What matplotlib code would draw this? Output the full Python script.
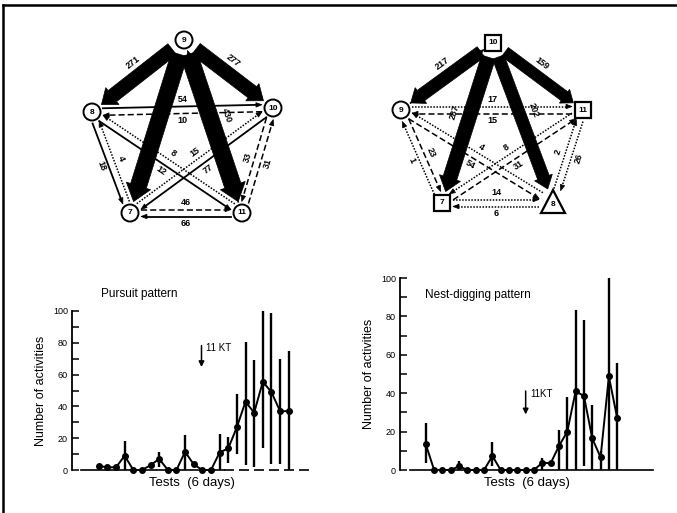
import numpy as np
import matplotlib
matplotlib.use("Agg")
import matplotlib.pyplot as plt
from matplotlib.patches import Circle, Rectangle, Polygon

plt.rcParams['font.family'] = ['Liberation Sans', 'DejaVu Sans']

# ---- transition diagrams: edges (from, to, count) ----
left_src = [9, 9, 9, 9, 8, 10, 8, 7, 8, 11, 10, 7, 11, 10, 11, 7, 11]
left_dst = [8, 10, 7, 11, 10, 8, 7, 8, 11, 8, 7, 10, 9, 11, 10, 11, 7]
left_cnt = [271, 277, None, 430, 54, 10, 18, 4, 12, 8, 77, 15, None, 33, 31, 46, 66]

right_src = [10, 10, 10, 10, 9, 11, 9, 7, 9, 9, 8, 7, 11, 8, 11, 7, 8]
right_dst = [9, 11, 7, 8, 11, 9, 10, 9, 7, 8, 9, 11, 7, 11, 8, 8, 7]
right_cnt = [217, 159, 287, 202, 17, 15, None, 1, 23, 54, 4, 31, 8, 2, 26, 14, 6]

# ---- activity curves ----
pursuit_mean = [2.5, 1.7, 1.7, 9, 0, 0, 3, 7, 0, 0, 11.5, 3.5, 0, 0, 11, 13.6,
                27, 43, 36, 55.5, 49, 37, 37]
pursuit_hi = [np.nan, np.nan, np.nan, 18.5, np.nan, np.nan, np.nan, 11.5, np.nan, np.nan,
              22, np.nan, np.nan, np.nan, 22.6, 21, 48, 80.7, 69, 100, 98.5, 70, 75]
pursuit_lo = [np.nan, np.nan, np.nan, 0, np.nan, np.nan, np.nan, 2, np.nan, np.nan,
              0, np.nan, np.nan, np.nan, 0, 4.6, 10, 3, 2, 13.6, 4, 4, 0]

nest_mean = [13.4, 0, 0, 0, 2, 0, 0, 0, 7.3, 0, 0, 0, 0, 0, 3.8, 3.5, 12.5, 20,
             41, 38.6, 16.5, 6.6, 48.7, 27]
nest_hi = [24.3, np.nan, np.nan, np.nan, 4.7, np.nan, np.nan, np.nan, 14.8, np.nan,
           np.nan, np.nan, np.nan, np.nan, 6, np.nan, 21, 38, 83.5, 78, 34, 10, 100, 55.7]
nest_lo = [3.5, np.nan, np.nan, np.nan, 0, np.nan, np.nan, np.nan, 2, np.nan,
           np.nan, np.nan, np.nan, np.nan, 0, np.nan, 0, 0, 0, 2, 0, 0, 0, 0]

# layout of the diagrams in pixel space (node: x, y, shape)
left_nodes = {9: (184, 40, 'o'), 8: (92, 112, 'o'), 10: (273, 108, 'o'),
              7: (130, 213, 'o'), 11: (242, 213, 'o')}
right_nodes = {10: (493, 43, 's'), 9: (401, 110, 'o'), 11: (583, 110, 's'),
               7: (442, 203, 's'), 8: (553, 203, '^')}
left_styles = ['thick'] * 4 + ['-', '--', '-', ':', '-', ':', '-', ':', ':', '--', '--', '--', '-']
left_side = [0, 0, 0, 0, 1, 1, -1, -1, -1, -1, 1, 1, 0, -1, -1, 1, 1]
right_styles = ['thick'] * 4 + [':', '--', ':', ':', '--', '--', ':', '--', ':', ':', ':', ':', ':']
right_side = [0, 0, 0, 0, 1, 1, 0, 1, 1, -1, -1, -1, -1, 1, 1, 1, 1]

fig = plt.figure(figsize=(6.77, 5.13), dpi=100)
bg = fig.add_axes([0, 0, 1, 1])
bg.set_xlim(0, 677)
bg.set_ylim(513, 0)
bg.axis('off')

# frame of the scanned plate
bg.plot([3, 677], [5, 5], color='black', lw=1.8)
bg.plot([3, 3], [5, 513], color='black', lw=1.8)

RAD = {'o': 11, 's': 11, '^': 14}


def draw_node(x, y, shape, name):
    if shape == 'o':
        bg.add_patch(Circle((x, y), 8.5, fc='white', ec='black', lw=1.4, zorder=5))
    elif shape == 's':
        bg.add_patch(Rectangle((x - 8, y - 8), 16, 16, fc='white', ec='black', lw=1.6, zorder=5))
    else:
        bg.add_patch(Polygon([(x - 12, y + 10), (x + 12, y + 10), (x, y - 13)],
                             fc='white', ec='black', lw=1.6, zorder=5))
        y = y + 2
    bg.text(x, y, str(name), ha='center', va='center', fontsize=6, fontweight='bold', zorder=6)


def draw_edge(p0, p1, r0, r1, style, side, cnt):
    p0 = np.array(p0, float)
    p1 = np.array(p1, float)
    u = (p1 - p0) / np.linalg.norm(p1 - p0)
    nrm = np.array([u[1], -u[0]])
    ang = np.degrees(np.arctan2(-u[1], u[0]))
    if ang > 90:
        ang -= 180
    if ang < -90:
        ang += 180
    if style == 'thick':
        w = 2 + 0.72 * np.sqrt(cnt if cnt else 400)
        s = p0 + u * (r0 + 4)
        e = p1 - u * (r1 + 1)
        hl, hw = 1.0 * w, 1.55 * w
        b = e - u * hl
        pts = [s + nrm * w / 2, b + nrm * w / 2, b + nrm * hw / 2, e,
               b - nrm * hw / 2, b - nrm * w / 2, s - nrm * w / 2]
        bg.add_patch(Polygon(pts, fc='black', ec='black', lw=0.5, zorder=3))
        if cnt:
            if abs(u[0]) < 0.5:
                out = nrm if nrm[0] * u[0] > 0 else -nrm
                lab = (s + e) / 2 - u * 8 + out * (w / 2 + 8)
            else:
                out = nrm if nrm[1] < 0 else -nrm
                lab = (s + e) / 2 - u * 6 + out * (w / 2 + 7)
            bg.text(lab[0], lab[1], str(cnt), rotation=ang, ha='center', va='center',
                    fontsize=6.5, fontweight='bold', zorder=6)
        return
    off = nrm * 3.5 * side
    s = p0 + u * r0 + off
    e = p1 - u * r1 + off
    hl, hw = 6, 4.5
    b = e - u * hl
    lw = 1.3 if style == '-' else 1.1
    ls = {'-': '-', '--': (0, (4, 2)), ':': (0, (1, 1))}[style]
    bg.plot([s[0], b[0]], [s[1], b[1]], color='black', lw=lw, linestyle=ls, zorder=2)
    bg.add_patch(Polygon([e, b + nrm * hw / 2, b - nrm * hw / 2], fc='black', ec='black',
                         lw=0.5, zorder=2))
    if cnt is not None:
        sgn = side if side != 0 else 1
        lab = (s + e) / 2 + nrm * sgn * 7
        bg.text(lab[0], lab[1], str(cnt), rotation=ang, ha='center', va='center',
                fontsize=6.5, fontweight='bold', zorder=6)


for nodes, src, dst, cnt, sty, side in [
        (left_nodes, left_src, left_dst, left_cnt, left_styles, left_side),
        (right_nodes, right_src, right_dst, right_cnt, right_styles, right_side)]:
    for a, b_, c, st, sd in zip(src, dst, cnt, sty, side):
        xa, ya, sa = nodes[a]
        xb, yb, sb = nodes[b_]
        draw_edge((xa, ya), (xb, yb), RAD[sa], RAD[sb], st, sd, c)
    for name, (x, y, shp) in nodes.items():
        draw_node(x, y, shp, name)


def activity_panel(rect, mean, lo, hi, xlim, base_start, title, title_pos, kt_x, kt_y, kt_label, dashed_from=None):
    ax = fig.add_axes(rect)
    x = np.arange(1, len(mean) + 1)
    ax.set_xlim(*xlim)
    ax.set_ylim(0, 100)
    for sp in ['top', 'right', 'bottom']:
        ax.spines[sp].set_visible(False)
    ax.spines['left'].set_linewidth(1.3)
    ax.set_xticks([])
    ax.set_yticks(np.arange(0, 101, 10))
    ax.set_yticklabels([str(v) if v % 20 == 0 else '' for v in range(0, 101, 10)], fontsize=6.5)
    ax.tick_params(axis='y', direction='in', length=5, width=1.1, pad=3)
    ax.patch.set_alpha(0)
    if dashed_from is None:
        ax.plot([base_start, xlim[1]], [0, 0], color='black', lw=1.2, clip_on=False)
    else:
        ax.plot([base_start, dashed_from], [0, 0], color='black', lw=1.2, clip_on=False)
        ax.plot([dashed_from, xlim[1]], [0, 0], color='black', lw=1.2,
                linestyle=(0, (6, 3)), clip_on=False)
    ax.vlines(x, lo, hi, color='black', lw=1.7, clip_on=False)
    ax.plot(x, mean, color='black', lw=1.4, marker='o', markersize=4, clip_on=False)
    ax.set_ylabel('Number of activities', fontsize=9, labelpad=4)
    ax.set_xlabel('Tests  (6 days)', fontsize=9.5, labelpad=5)
    ax.text(title_pos[0], title_pos[1], title, transform=ax.transAxes, fontsize=8.5,
            ha='left', va='center')
    ax.annotate('', xy=(kt_x, kt_y[1]), xytext=(kt_x, kt_y[0]),
                arrowprops=dict(arrowstyle='-|>', color='black', lw=1.1, mutation_scale=8))
    ax.text(kt_x + 0.5, kt_y[0] - 3, kt_label, fontsize=7, ha='left', va='center')
    return ax


activity_panel([72 / 677, 1 - 470 / 513, 240 / 677, 159 / 513], pursuit_mean, pursuit_lo,
               pursuit_hi, (-2.1, 25.7), -1.1, 'Pursuit pattern', (0.12, 1.11),
               12.9, (80, 63), '11 KT', dashed_from=15.5)
activity_panel([400 / 677, 1 - 470 / 513, 253 / 677, 192 / 513], nest_mean, nest_lo,
               nest_hi, (-2.1, 28.3), -0.9, 'Nest-digging pattern', (0.1, 0.91),
               13, (42.6, 27.5), '11KT')

fig.savefig('out.png', dpi=100)
